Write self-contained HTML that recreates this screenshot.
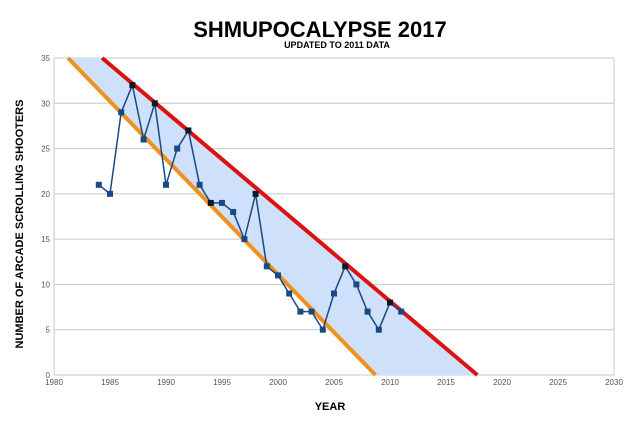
<!DOCTYPE html>
<html><head><meta charset="utf-8"><style>
body{margin:0;background:#fff;}
svg{display:block;font-family:"Liberation Sans",sans-serif;}
</style></head><body>
<svg id="c" width="639" height="432">
<text x="320" y="37" text-anchor="middle" font-size="22" font-weight="900">SHMUPOCALYPSE 2017</text>
<text x="337" y="48" text-anchor="middle" font-size="9" font-weight="900">UPDATED TO 2011 DATA</text>
<text x="330" y="410" text-anchor="middle" font-size="11" font-weight="900">YEAR</text>
<text transform="translate(23,224) rotate(-90)" text-anchor="middle" font-size="11" font-weight="900">NUMBER OF ARCADE SCROLLING SHOOTERS</text>
<g id="grid"></g><g id="band"></g><g id="series"></g>
</svg>
<script>
const xTicks=[1980,1985,1990,1995,2000,2005,2010,2015,2020,2025,2030];
const yTicks=[0,5,10,15,20,25,30,35];
const years=[1984,1985,1986,1987,1988,1989,1990,1991,1992,1993,1994,1995,1996,1997,1998,1999,2000,2001,2002,2003,2004,2005,2006,2007,2008,2009,2010,2011];
const counts=[21,20,29,32,26,30,21,25,27,21,19,19,18,15,20,12,11,9,7,7,5,9,12,10,7,5,8,7];
const dark=[1987,1989,1992,1994,1998,2006,2010];
const upperLine=[[1984.3,35],[2017.8,0]];
const lowerLine=[[1981.25,35],[2008.7,0]];
const NS="http://www.w3.org/2000/svg";
const X0=54,X1=614,Y0=375,Y1=58;
const sx=v=>X0+(v-1980)/50*(X1-X0);
const sy=v=>Y0-(v/35)*(Y0-Y1);
function mk(t,a,p){const e=document.createElementNS(NS,t);for(const k in a)e.setAttribute(k,a[k]);p.appendChild(e);return e;}
const grid=document.getElementById('grid');
yTicks.forEach(v=>{
 const l=mk('line',{x1:X0,x2:X1,y1:sy(v),y2:sy(v),stroke:'#c8c8c8','stroke-width':1},grid);
 
 
 const t=mk('text',{x:X0-4,y:sy(v)+3,'text-anchor':'end','font-size':8,fill:'#555'},grid);
 t.textContent=v;
 
 
});
xTicks.forEach(v=>{
 const t=mk('text',{x:sx(v),y:Y0+10,'text-anchor':'middle','font-size':8,fill:'#555'},grid);
 t.textContent=v;
 
 
});
const ax=mk('line',{x1:X0,x2:X0,y1:Y1,y2:Y0,stroke:'#c8c8c8'},grid);


const ax2=mk('line',{x1:X1,x2:X1,y1:Y1,y2:Y0,stroke:'#c8c8c8'},grid);


const band=document.getElementById('band');
const pts=[upperLine[0],upperLine[1],lowerLine[1],lowerLine[0]].map(p=>sx(p[0])+','+sy(p[1])).join(' ');
const poly=mk('polygon',{points:pts,fill:'#cfe0fa'},band);


const lo=mk('line',{x1:sx(lowerLine[0][0]),y1:sy(lowerLine[0][1]),x2:sx(lowerLine[1][0]),y2:sy(lowerLine[1][1]),stroke:'#f0901e','stroke-width':4},band);


const up=mk('line',{x1:sx(upperLine[0][0]),y1:sy(upperLine[0][1]),x2:sx(upperLine[1][0]),y2:sy(upperLine[1][1]),stroke:'#dd1111','stroke-width':4},band);


const s=document.getElementById('series');
const pl=mk('polyline',{points:years.map((y,i)=>sx(y)+','+sy(counts[i])).join(' '),fill:'none',stroke:'#174a82','stroke-width':1.5},s);


years.forEach((y,i)=>{
 const r=mk('rect',{x:sx(y)-3,y:sy(counts[i])-3,width:6,height:6,fill:dark.includes(y)?'#0a1a2a':'#174a82'},s);
 
 
});
</script>
</body></html>
